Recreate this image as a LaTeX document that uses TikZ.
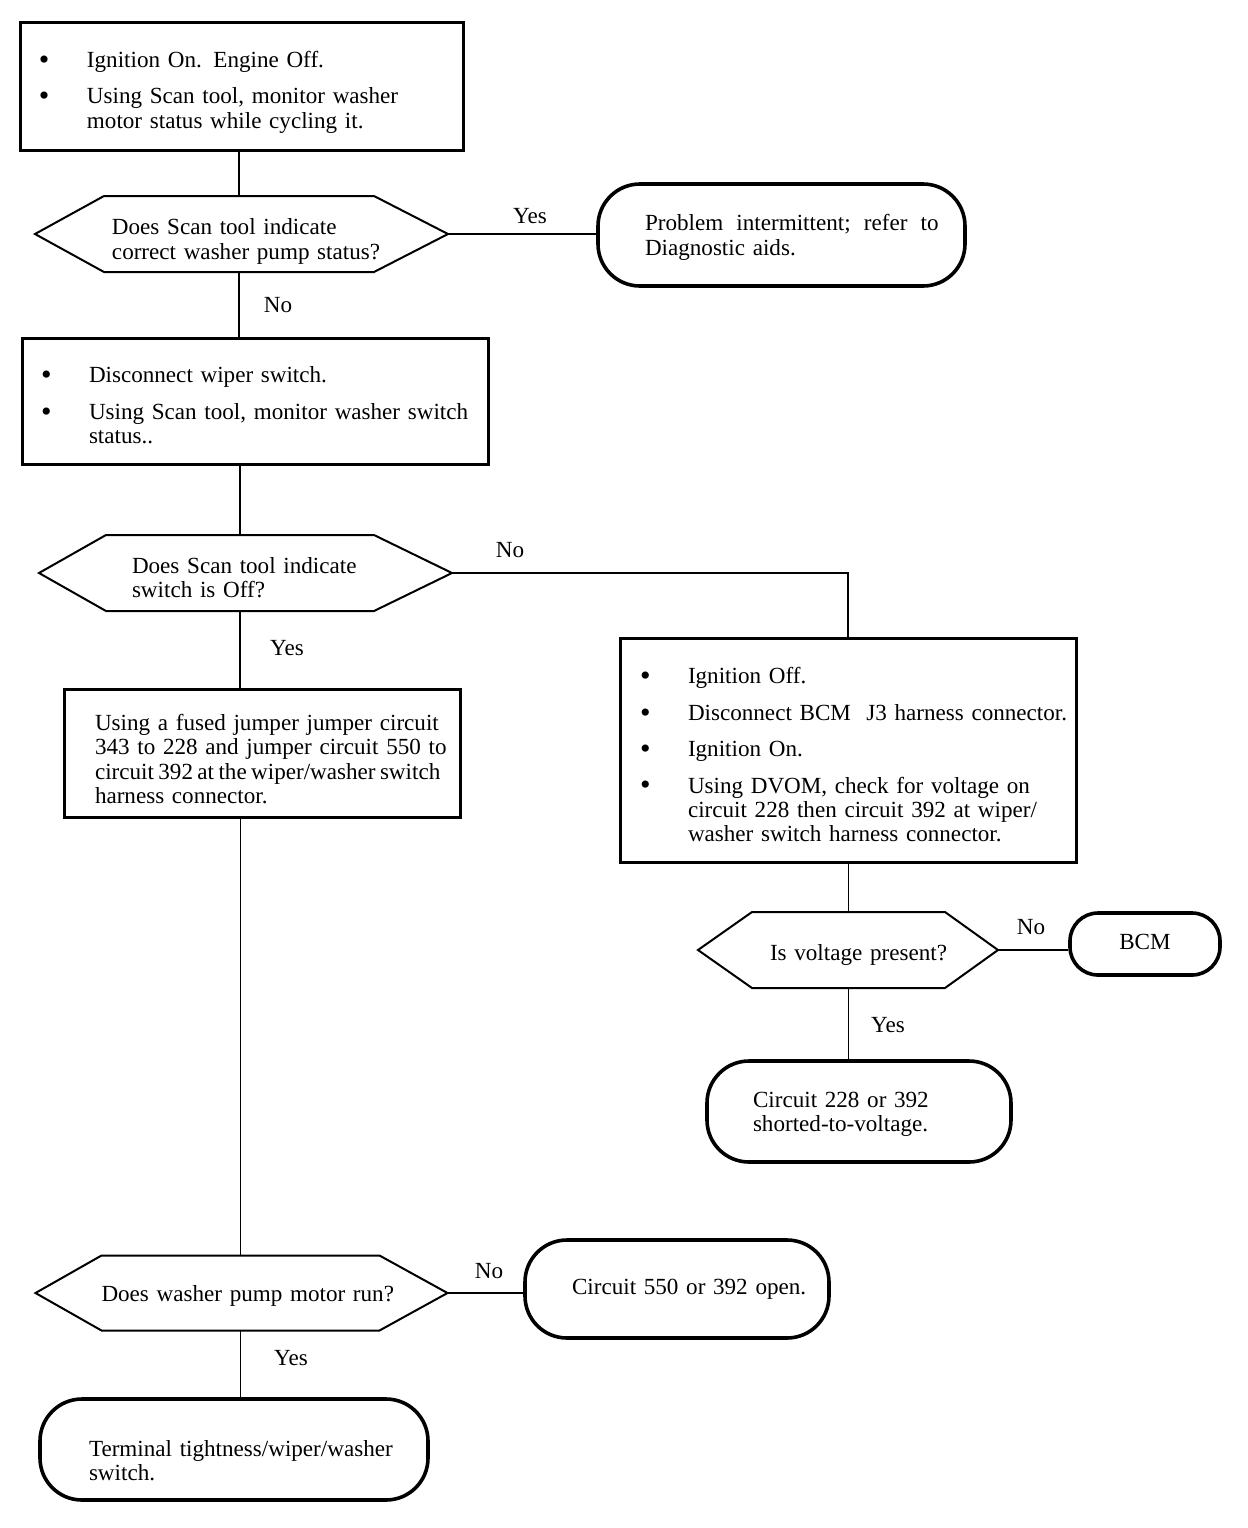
\documentclass[tikz,border=0pt]{standalone}
\usepackage{fontspec}
\setmainfont{Liberation Serif}
\usetikzlibrary{calc}
\newcommand\bu{\makebox[24pt][l]{\raisebox{-0.9pt}{\fontsize{15pt}{15pt}\selectfont\textbullet}}}
\newcommand\tbl[3]{\raisebox{-#1}[\height][\depth]{\begin{tabular}{@{}#2@{}}#3\end{tabular}}}
\begin{document}
\begin{tikzpicture}[x=0.5pt,y=-0.5pt,
  every node/.style={font=\fontsize{11.55pt}{12.2pt}\selectfont},
  box/.style={draw, line width=1.5pt, align=left, inner ysep=0pt},
  term/.style={draw, line width=1.8pt, align=left, inner ysep=0pt},
  hexnode/.style={inner ysep=0pt, outer sep=0pt, align=left},
  hexline/.style={line width=1pt, line join=miter},
  conn/.style={line width=0.9pt},
  lab/.style={inner sep=0pt}]
\fill[white] (0,0) rectangle (1248,1528);
\useasboundingbox (0,0) rectangle (1248,1528);

% boxes
\node[box, text width=202.5pt, inner xsep=9.5pt, minimum height=64pt] (b1) at (241.5,86)
 {\tbl{3.5pt}{l@{}l}{\bu&Ignition On. Engine Off.\\[6pt]\bu&Using Scan tool, monitor washer\\&motor status while cycling it.}};
\node[box, text width=214pt, inner xsep=9.5pt, minimum height=63pt] (b2) at (255,401)
 {\tbl{3.7pt}{l@{}l}{\bu&Disconnect wiper switch.\\[6pt]\bu&Using Scan tool, monitor washer switch\\&status..}};
\node[box, text width=208pt, inner xsep=10pt, minimum height=112pt] (b3) at (848,750)
 {\tbl{4pt}{l@{}l}{\bu&Ignition Off.\\[6pt]\bu&Disconnect BCM\ \ J3 harness connector.\\[6pt]\bu&Ignition On.\\[6pt]\bu&Using DVOM, check for voltage on\\&circuit 228 then circuit 392 at wiper/\\&washer switch harness connector.}};
\node[box, text width=167pt, inner xsep=15.5pt, minimum height=64pt] (b4) at (262,753)
 {\tbl{4.5pt}{l}{Using a fused jumper jumper circuit\\343 to 228 and jumper circuit 550 to\\{\spaceskip=2.2pt circuit 392 at the wiper/washer switch}\\harness connector.}};

% decisions
\node[hexnode, text width=127pt, inner xsep=4pt, minimum height=38pt] (d1) at (239,234)
 {\tbl{4pt}{l}{Does Scan tool indicate\\correct washer pump status?}};
\draw[hexline] (d1.north west) -- (d1.north east) -- ($(d1.east)+(74,0)$) coordinate (d1r)
  -- (d1.south east) -- (d1.south west) -- ($(d1.west)+(-69,0)$) -- cycle;

\node[hexnode, text width=108pt, inner xsep=13pt, minimum height=38pt] (d2) at (240,573)
 {\tbl{3.7pt}{l}{Does Scan tool indicate\\switch is Off?}};
\draw[hexline] (d2.north west) -- (d2.north east) -- ($(d2.east)+(78,0)$) coordinate (d2r)
  -- (d2.south east) -- (d2.south west) -- ($(d2.west)+(-67,0)$) -- cycle;

\node[hexnode, text width=78.5pt, inner xsep=9pt, minimum height=38pt] (d3) at (848.5,950)
 {\tbl{3pt}{l}{Is voltage present?}};
\draw[hexline] (d3.north west) -- (d3.north east) -- ($(d3.east)+(53,0)$) coordinate (d3r)
  -- (d3.south east) -- (d3.south west) -- ($(d3.west)+(-54,0)$) -- cycle;

\node[hexnode, text width=139pt, inner xsep=0pt, minimum height=37.5pt] (d4) at (240.5,1293)
 {\tbl{2pt}{l}{Does washer pump motor run?}};
\draw[hexline] (d4.north west) -- (d4.north east) -- ($(d4.east)+(68,0)$) coordinate (d4r)
  -- (d4.south east) -- (d4.south west) -- ($(d4.west)+(-66,0)$) -- cycle;

% terminals
\node[term, rounded corners=21pt, text width=136.5pt, inner xsep=23.5pt, minimum height=51pt] (t1) at (781.5,235)
 {\tbl{1.5pt}{l}{{\spaceskip=6.6pt Problem intermittent; refer to}\\Diagnostic aids.}};
\node[term, rounded corners=14pt, minimum width=75pt, minimum height=31pt, align=center, inner xsep=0pt] (bcm) at (1145,944) {\tbl{0.5pt}{l}{BCM}};
\node[term, rounded corners=21pt, text width=106pt, inner xsep=23pt, minimum height=50.5pt] (t3) at (859,1111.5)
 {\tbl{1.5pt}{l}{Circuit 228 or 392\\shorted-to-voltage.}};
\node[term, rounded corners=21pt, text width=105pt, inner xsep=23.5pt, minimum height=49pt] (t4) at (677,1289)
 {\tbl{0.5pt}{l}{Circuit 550 or 392 open.}};
\node[term, rounded corners=21pt, text width=145pt, inner xsep=24.5pt, minimum height=50.5pt] (t5) at (234,1449.5)
 {\tbl{7pt}{l}{Terminal tightness/wiper/washer\\switch.}};

% connectors
\draw[conn] (b1.south -| d1.north) -- (d1.north);
\draw[conn] (d1r) -- (d1r -| t1.west);
\draw[conn] (d1.south) -- (d1.south |- b2.north);
\draw[conn] (b2.south -| d2.north) -- (d2.north);
\draw[conn] (d2r) -| (b3.north);
\draw[conn] (d2.south) -- (d2.south |- b4.north);
\draw[conn] (b4.south -| d4.north) -- (d4.north);
\draw[conn] (d4r) -- (d4r -| t4.west);
\draw[conn] (d4.south) -- (d4.south |- t5.north);
\draw[conn] (b3.south -| d3.north) -- (d3.north);
\draw[conn] (d3r) -- (d3r -| bcm.west);
\draw[conn] (d3.south) -- (d3.south |- t3.north);

% labels
\node[lab] (l1) at (530,216) {Yes};
\node[lab] (l2) at (278,305) {No};
\node[lab] (l3) at (510,550) {No};
\node[lab] (l4) at (287,648) {Yes};
\node[lab] (l5) at (1031,927) {No};
\node[lab] (l6) at (888,1025) {Yes};
\node[lab] (l7) at (489,1271) {No};
\node[lab] (l8) at (291,1358) {Yes};
\end{tikzpicture}
\end{document}
